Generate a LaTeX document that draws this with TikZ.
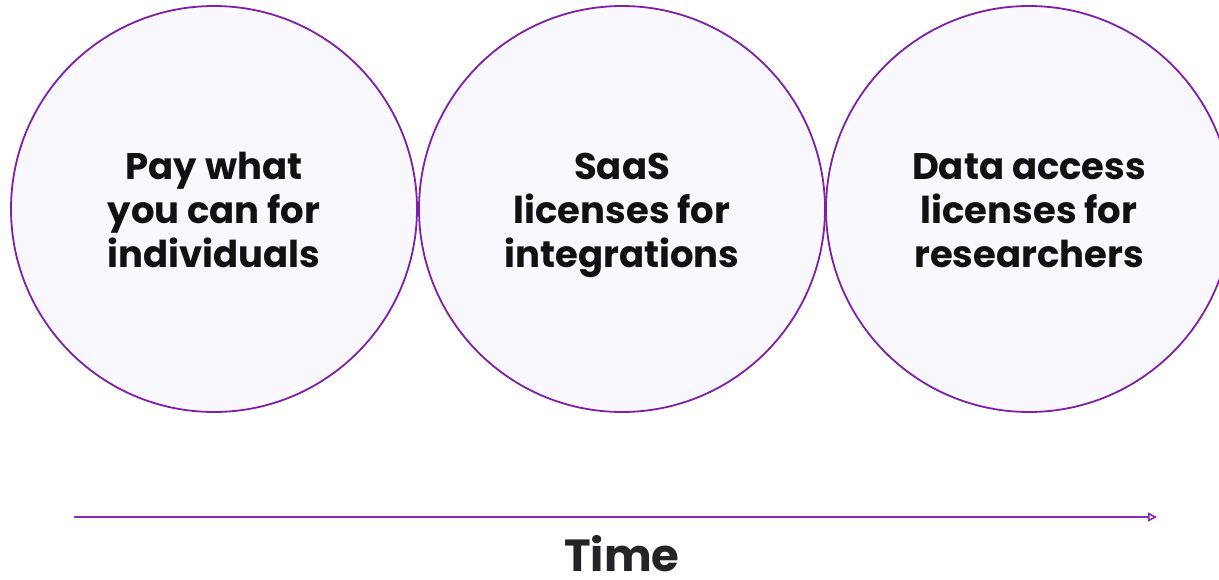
\documentclass[tikz,border=0pt]{standalone}
\usepackage{fontspec}
\setmainfont{Poppins}
\usetikzlibrary{arrows.meta}
\definecolor{ringc}{HTML}{7E1FA8}
\definecolor{fillc}{HTML}{F9F8FE}
\definecolor{arrc}{HTML}{8B2AB5}
\definecolor{txtc}{HTML}{111111}
\definecolor{timec}{HTML}{222428}
\begin{document}
\begin{tikzpicture}[x=1pt,y=-1pt,
  bubble/.style={circle,draw=ringc,fill=fillc,line width=1.8pt,minimum size=406pt,inner sep=0pt},
  label/.style={text=txtc,font=\fontsize{37}{44}\selectfont\bfseries,align=center,inner sep=0pt,text depth=0pt,anchor=south}]
\useasboundingbox (0,0) rectangle (1219,579);
\begin{scope}
\clip (0,0) rectangle (1219,579);
\node[bubble] (c1) at (214,209) {};
\node[bubble] (c2) at (622,209) {};
\node[bubble] (c3) at (1029,209) {};
\end{scope}
\node[label] (t1) at (214,268) {Pay what\\you can for\\individuals};
\node[label] (t2) at (622,268) {SaaS\\licenses for\\integrations};
\node[label] (t3) at (1029,268) {Data access\\licenses for\\researchers};
\coordinate (a0) at (74,517);
\coordinate (a1) at (1157,517);
\draw[arrc,line width=1.6pt,-{Triangle[open,length=9pt,width=9pt]}] (a0) -- (a1);
\node[text=timec,font=\fontsize{45}{50}\selectfont\bfseries,inner sep=0pt,anchor=base] (time) at (622,571) {Time};
\end{tikzpicture}
\end{document}
